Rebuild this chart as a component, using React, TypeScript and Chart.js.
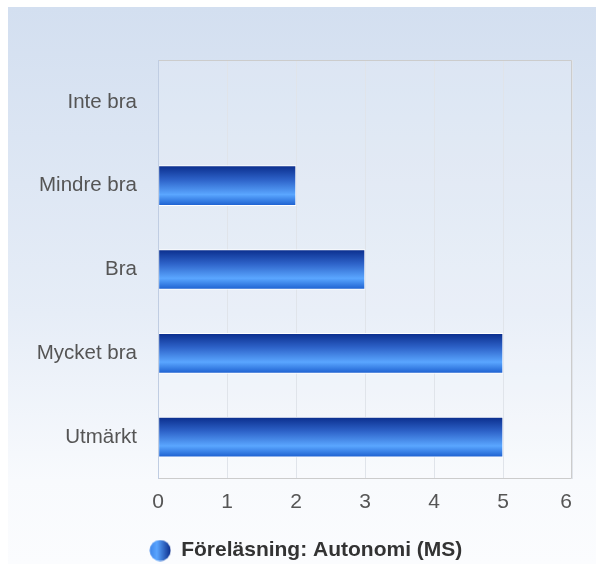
import React, { useEffect, useRef } from "react";
import { Chart, registerables } from "chart.js";

Chart.register(...registerables);

const categories = ["Inte bra", "Mindre bra", "Bra", "Mycket bra", "Utmärkt"];
const values = [0, 2, 3, 5, 5];
const seriesName = "Föreläsning: Autonomi (MS)";
const xMax = 6;

const FONT = "'Liberation Sans', Arial, sans-serif";

function makeLegendIcon(): HTMLCanvasElement {
  const c = document.createElement("canvas");
  c.width = 22;
  c.height = 22;
  const ctx = c.getContext("2d")!;
  const g = ctx.createLinearGradient(0, 0, 22, 0);
  g.addColorStop(0, "#3b82e8");
  g.addColorStop(0.35, "#5aa5ff");
  g.addColorStop(1, "#0a2a88");
  ctx.fillStyle = g;
  ctx.beginPath();
  ctx.arc(11, 11, 10.5, 0, Math.PI * 2);
  ctx.fill();
  return c;
}

const bgPlugin = {
  id: "bgPanel",
  afterLayout(chart: any) {
    const lg = chart.legend;
    if (lg) {
      lg.left += 40;
      lg.top += 8;
      lg.bottom += 8;
    }
  },
  beforeDraw(chart: any) {
    const { ctx, width, height, chartArea } = chart;
    ctx.save();
    const g = ctx.createLinearGradient(0, 7, 0, height);
    g.addColorStop(0, "#d3dff0");
    g.addColorStop(0.55, "#e6edf7");
    g.addColorStop(0.85, "#f8fafd");
    g.addColorStop(1, "#fbfcfe");
    ctx.fillStyle = g;
    ctx.fillRect(8, 7, width - 8, height - 7);
    ctx.fillStyle = "rgba(255,255,255,0.15)";
    ctx.fillRect(chartArea.left, chartArea.top, chartArea.right - chartArea.left, chartArea.bottom - chartArea.top);
    ctx.restore();
  },
  afterDatasetsDraw(chart: any) {
    const { ctx, chartArea } = chart;
    ctx.save();
    ctx.strokeStyle = "#cccccc";
    ctx.lineWidth = 1;
    ctx.beginPath();
    ctx.moveTo(chartArea.left, chartArea.top + 0.5);
    ctx.lineTo(chartArea.right - 0.5, chartArea.top + 0.5);
    ctx.lineTo(chartArea.right - 0.5, chartArea.bottom - 0.5);
    ctx.lineTo(chartArea.left, chartArea.bottom - 0.5);
    ctx.stroke();
    ctx.strokeStyle = "#c0cde2";
    ctx.beginPath();
    ctx.moveTo(chartArea.left + 0.5, chartArea.top);
    ctx.lineTo(chartArea.left + 0.5, chartArea.bottom);
    ctx.stroke();
    ctx.restore();
  },
};

const BAR_T = 40;

export default function App() {
  const ref = useRef<HTMLCanvasElement>(null);
  useEffect(() => {
    const icon = makeLegendIcon();
    const chart = new Chart(ref.current!, {
      type: "bar",
      data: {
        labels: categories,
        datasets: [
          {
            label: seriesName,
            data: values,
            barThickness: BAR_T,
            borderColor: "#ffffff",
            borderWidth: 1,
            borderSkipped: false,
            backgroundColor: (ctx: any) => {
              const chart = ctx.chart;
              const ys = chart.scales && chart.scales.y;
              if (!ys || ctx.dataIndex === undefined) return "#3b82e8";
              const yc = ys.getPixelForValue(ctx.dataIndex);
              const top = yc - BAR_T / 2;
              const g = chart.ctx.createLinearGradient(0, top, 0, top + BAR_T);
              g.addColorStop(0, "#0a2d8c");
              g.addColorStop(0.35, "#2d62c8");
              g.addColorStop(0.72, "#5aa6ff");
              g.addColorStop(1, "#1c5fcf");
              return g;
            },
          },
        ],
      },
      options: {
        indexAxis: "y",
        animation: false,
        responsive: false,
        maintainAspectRatio: false,
        layout: { padding: { left: 0, right: 24, top: 60, bottom: 1 } },
        scales: {
          x: {
            min: 0,
            max: xMax,
            ticks: {
              stepSize: 1,
              color: "#555555",
              font: { family: FONT, size: 21 },
              padding: 11,
              callback: (v: any) => (Number(v) === xMax ? String(v) + "  " : String(v)),
            },
            grid: { color: "#e0e4ea", drawTicks: false },
            border: { display: false },
            afterFit: (s: any) => {
              s.height = 49;
            },
          },
          y: {
            ticks: { color: "#555555", font: { family: FONT, size: 20.5 }, padding: 21 },
            grid: { display: false, drawTicks: false },
            border: { display: false },
            afterFit: (s: any) => {
              s.width = 158;
            },
          },
        },
        plugins: {
          tooltip: { enabled: false },
          legend: {
            position: "bottom",
            labels: {
              color: "#333333",
              font: { family: FONT, size: 21, weight: "bold" },
              usePointStyle: true,
              padding: 4,
              generateLabels: () => [
                {
                  text: seriesName,
                  pointStyle: icon as any,
                  fillStyle: "#3b82e8",
                  strokeStyle: "#3b82e8",
                  lineWidth: 0,
                  hidden: false,
                  datasetIndex: 0,
                  fontColor: "#333333",
                },
              ],
            },
          },
        },
      },
      plugins: [bgPlugin],
    } as any);
    return () => chart.destroy();
  }, []);
  return (
    <div style={{ position: "fixed", left: 0, top: 0, width: 596, height: 564, background: "#fff" }}>
      <canvas ref={ref} width={596} height={564} style={{ display: "block", width: 596, height: 564 }} />
    </div>
  );
}
